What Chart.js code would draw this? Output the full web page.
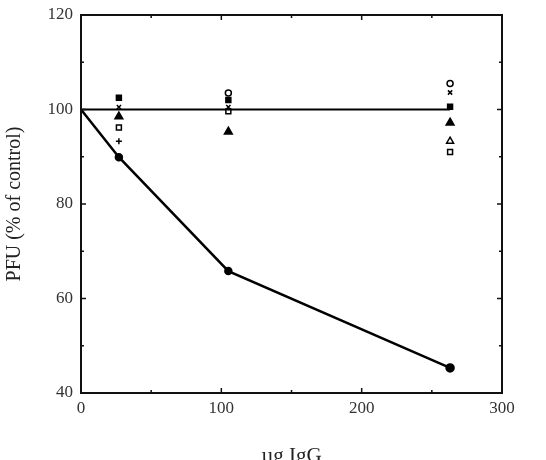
<!DOCTYPE html>
<html>
<head>
<meta charset="utf-8">
<script src="https://cdn.jsdelivr.net/npm/chart.js@4"></script>
<style>
  html, body { margin: 0; padding: 0; background: #fff; }
  #wrap { width: 546px; height: 460px; }
</style>
</head>
<body>
<div id="wrap"><canvas id="chart" width="546" height="460"></canvas></div>
<script>
// doses (µg IgG)
const doses = [27, 105, 263];
const lineX = [0, 27, 105, 263];

// declining series (filled circles, joined)
const declineY = [100, 89.9, 65.8, 45.3];
// flat reference line
const flatX = [0, 263];
const flatY = [100, 100];

// scattered symbols around 100 %
const filledSquare = [102.5, 102, 100.6];
const openCircle = [null, 103.5, 105.5];
const crossX = [100.5, 100.5, 103.6];
const filledTri = [98.5, 95.3, 97.2];
const openTri = [null, null, 93.3];
const openSquare = [96.2, 99.6, 91];
const plusY = [93.3, null, null];

const xTicks = [0, 100, 200, 300];
const yTicks = [40, 60, 80, 100, 120];

const pts = (xs, ys) => xs.map((x, i) => ({ x: x, y: ys[i] })).filter(p => p.y !== null);

const symbol = (data, style, fill, r) => ({
    type: 'scatter',
    data: data,
    pointStyle: style,
    pointRadius: r,
    backgroundColor: fill,
    borderColor: '#000',
    borderWidth: 1.5,
    showLine: false
});

// box round the plot and inward tick marks
const frame = {
    id: 'frame',
    afterDraw(chart) {
        const { ctx, chartArea: a, scales: { x, y } } = chart;
        ctx.save();
        ctx.strokeStyle = '#111';
        ctx.lineWidth = 2;
        ctx.strokeRect(a.left, a.top, a.right - a.left, a.bottom - a.top);
        ctx.lineWidth = 1.5;
        for (let v = 40; v <= 120; v += 10) {
            const py = y.getPixelForValue(v);
            const len = v % 20 === 0 ? 5 : 3;
            ctx.beginPath();
            ctx.moveTo(a.left, py); ctx.lineTo(a.left + len, py);
            ctx.moveTo(a.right, py); ctx.lineTo(a.right - len, py);
            ctx.stroke();
        }
        for (let v = 0; v <= 300; v += 50) {
            const px = x.getPixelForValue(v);
            const len = v % 100 === 0 ? 5 : 3;
            ctx.beginPath();
            ctx.moveTo(px, a.bottom); ctx.lineTo(px, a.bottom - len);
            ctx.moveTo(px, a.top); ctx.lineTo(px, a.top + len);
            ctx.stroke();
        }
        ctx.restore();
    }
};

new Chart(document.getElementById('chart').getContext('2d'), {
    type: 'scatter',
    data: {
        datasets: [
            {
                type: 'line',
                data: pts(flatX, flatY),
                borderColor: '#000',
                borderWidth: 2,
                pointRadius: 0,
                tension: 0
            },
            {
                type: 'line',
                data: pts(lineX, declineY),
                borderColor: '#000',
                backgroundColor: '#000',
                borderWidth: 2.5,
                pointRadius: [0, 3, 3, 3.5],
                pointStyle: 'circle',
                tension: 0
            },
            symbol(pts(doses, filledSquare), 'rect', '#000', 3.5),
            symbol(pts(doses, openCircle), 'circle', '#fff', 3),
            symbol(pts(doses, crossX), 'crossRot', '#000', 3),
            symbol(pts(doses, filledTri), 'triangle', '#000', 4.5),
            symbol(pts(doses, openTri), 'triangle', '#fff', 4),
            symbol(pts(doses, openSquare), 'rect', '#fff', 3.5),
            symbol(pts(doses, plusY), 'cross', '#000', 3)
        ]
    },
    options: {
        responsive: false,
        animation: false,
        layout: { padding: { left: 0, right: 44, top: 15, bottom: 0 } },
        plugins: { legend: { display: false }, tooltip: { enabled: false } },
        scales: {
            x: {
                type: 'linear',
                min: 0,
                max: 300,
                afterBuildTicks: s => { s.ticks = xTicks.map(v => ({ value: v })); },
                afterFit: s => { s.height = 67; s.paddingLeft = 0; s.paddingRight = 0; },
                grid: { display: false, drawTicks: false },
                border: { display: false },
                ticks: {
                    color: '#333',
                    padding: 5,
                    font: { family: 'Liberation Serif', size: 17 }
                },
                title: {
                    display: true,
                    text: 'µg IgG',
                    color: '#222',
                    padding: { top: 20, bottom: -9 },
                    font: { family: 'Liberation Serif', size: 21 }
                }
            },
            y: {
                min: 40,
                max: 120,
                afterBuildTicks: s => { s.ticks = yTicks.map(v => ({ value: v })); },
                afterFit: s => { s.width = 81; s.paddingTop = 0; s.paddingBottom = 0; },
                grid: { display: false, drawTicks: false },
                border: { display: false },
                ticks: {
                    color: '#333',
                    padding: 8,
                    font: { family: 'Liberation Serif', size: 17 }
                },
                title: {
                    display: true,
                    text: 'PFU (% of control)',
                    color: '#222',
                    padding: { top: 3, bottom: 8 },
                    font: { family: 'Liberation Serif', size: 20 }
                }
            }
        }
    },
    plugins: [frame]
});
</script>
</body>
</html>
